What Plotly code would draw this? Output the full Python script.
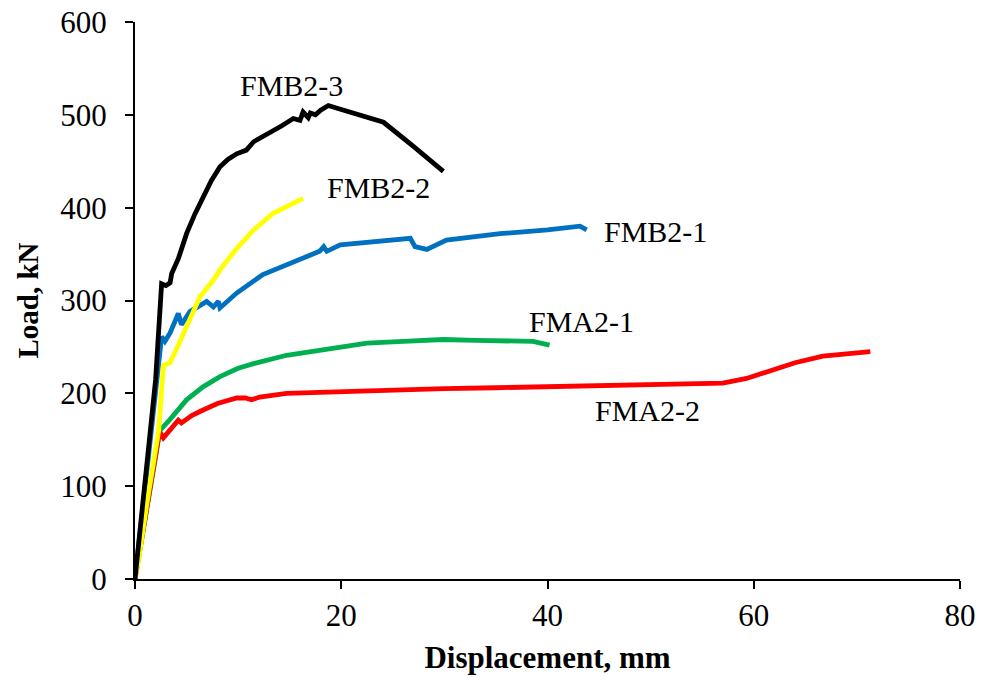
import plotly.graph_objects as go

# FMB2-3 (black)
fmb23_x = [0, 1.0, 2.0, 2.58, 3.0, 3.4, 3.56, 4.2, 5.0, 5.8, 6.6, 7.4, 8.24, 9.0, 9.86, 10.8, 11.5, 12.3, 13.1, 14.2, 15.35, 16.0, 16.3, 16.8, 17.0, 17.5, 18.0, 18.75, 19.6, 21.8, 24.1, 27.0, 29.9]
fmb23_y = [0, 105, 215, 318, 316, 319, 329, 345, 372, 393, 412, 429, 444, 452, 458, 462, 471, 476, 480, 488, 496, 494, 503, 497, 502, 500, 505, 510, 507, 500, 492, 466, 439]

# FMB2-2 (yellow)
fmb22_x = [0, 0.3, 1.2, 2.3, 2.75, 3.4, 4.2, 5.0, 6.3, 7.6, 8.24, 9.86, 11.5, 13.4, 15.0, 16.3]
fmb22_y = [0, 17, 85, 160, 230, 233, 252, 272, 304, 322, 333, 356, 376, 394, 403, 410]

# FMB2-1 (blue)
fmb21_x = [0, 1.0, 2.0, 2.58, 2.9, 3.4, 4.2, 4.5, 5.33, 6.95, 7.6, 8.08, 8.24, 9.86, 12.4, 14.7, 16.0, 17.9, 18.3, 18.6, 19.9, 21.8, 24.0, 26.7, 27.15, 28.3, 30.2, 35.4, 40.0, 43.15, 43.8]
fmb21_y = [0, 100, 200, 261, 256, 265, 286, 274, 288, 299, 293, 299, 292, 308, 328, 338, 345, 353, 358, 353, 360, 362, 364, 367, 358, 355, 365, 372, 376, 380, 376]

# FMA2-1 (green)
fma21_x = [0, 1.2, 2.42, 3.4, 5.0, 6.6, 8.24, 10.0, 11.5, 14.7, 16.0, 19.9, 22.5, 26.0, 29.9, 33.0, 38.6, 40.2]
fma21_y = [0, 80, 160, 172, 193, 207, 218, 227, 232, 241, 243, 249, 254, 256, 258, 257, 256, 252]

# FMA2-2 (red)
fma22_x = [0, 0.16, 1.2, 2.26, 2.42, 2.75, 3.4, 4.2, 4.5, 5.5, 6.6, 8.0, 9.86, 10.7, 11.3, 12.1, 14.7, 19.9, 25.0, 30.0, 35.0, 39.3, 45.0, 50.0, 55.4, 57.0, 59.3, 61.9, 64.0, 66.7, 69.0, 71.3]
fma22_y = [0, 10, 80, 151, 158, 152, 161, 171, 168, 176, 182, 189, 195, 195, 193, 196, 200, 202, 204, 205, 206, 207, 208, 209, 211, 211, 216, 225, 233, 240, 243, 245]

labels = ["FMB2-3", "FMB2-2", "FMB2-1", "FMA2-1", "FMA2-2"]
label_x = [15.2, 23.6, 50.5, 43.3, 49.7]
label_y = [532, 422, 374, 277, 182]

x_ticks = [0, 20, 40, 60, 80]
y_ticks = [0, 100, 200, 300, 400, 500, 600]

FONT = "Times New Roman, Liberation Serif, serif"

series = [
    ("FMB2-1", fmb21_x, fmb21_y, "#0070C0"),
    ("FMA2-1", fma21_x, fma21_y, "#00B050"),
    ("FMA2-2", fma22_x, fma22_y, "#FF0000"),
    ("FMB2-2", fmb22_x, fmb22_y, "#FFFF00"),
    ("FMB2-3", fmb23_x, fmb23_y, "#000000"),
]

fig = go.Figure()
for name, xs, ys, col in series:
    fig.add_trace(go.Scatter(x=xs, y=ys, mode="lines", name=name,
                             line=dict(color=col, width=4.8), showlegend=False))

for t, xx, yy in zip(labels, label_x, label_y):
    fig.add_annotation(x=xx, y=yy, text=t, showarrow=False,
                       font=dict(family=FONT, size=30, color="black"),
                       xanchor="center", yanchor="middle")

fig.update_layout(
    width=981, height=686,
    margin=dict(l=135, r=21, t=22, b=107),
    paper_bgcolor="white", plot_bgcolor="white",
    font=dict(family=FONT, size=30, color="black"),
)
fig.update_xaxes(range=[0, 80], tickvals=x_ticks, showgrid=False, zeroline=False,
                 showline=True, linecolor="black", linewidth=2, automargin=False,
                 ticks="outside", ticklen=8, tickwidth=2, tickcolor="black",
                 tickfont=dict(family=FONT, size=31),
                 title=dict(text="<b>Displacement, mm</b>", font=dict(family=FONT, size=31), standoff=14))
fig.update_yaxes(range=[0, 600], tickvals=y_ticks, showgrid=False, zeroline=False,
                 showline=True, linecolor="black", linewidth=2, automargin=False,
                 ticks="outside", ticklen=8, tickwidth=2, tickcolor="black",
                 tickfont=dict(family=FONT, size=31), ticklabelstandoff=12,
                 title=dict(text="<b>Load, kN</b>", font=dict(family=FONT, size=29), standoff=13))

fig.write_html("out.html")
